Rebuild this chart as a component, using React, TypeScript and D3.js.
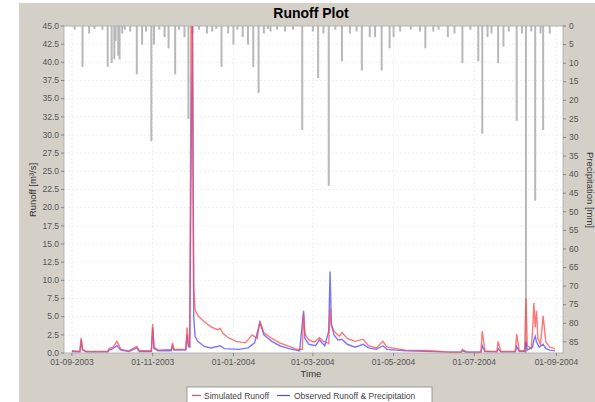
import React from 'react';
import * as d3 from 'd3';

const WIDTH = 595;
const HEIGHT = 402;
// plot area 64..563 x 26..353
const margin = { l: 64, t: 26, r: 32, b: 49 };
const plotW = WIDTH - margin.l - margin.r;
const plotH = HEIGHT - margin.t - margin.b;

const parse = d3.timeParse('%Y-%m-%d');
const fmt = d3.timeFormat('%d-%m-%Y');

const title = 'Runoff Plot';
const timeDomain = ['2003-08-26', '2004-09-06'];
const timeTicks = ['2003-09-01', '2003-11-01', '2004-01-01', '2004-03-01', '2004-05-01', '2004-07-01', '2004-09-01'];
const runoffTicks = [0, 2.5, 5, 7.5, 10, 12.5, 15, 17.5, 20, 22.5, 25, 27.5, 30, 32.5, 35, 37.5, 40, 42.5, 45];
const precipTicks = [0, 5, 10, 15, 20, 25, 30, 35, 40, 45, 50, 55, 60, 65, 70, 75, 80, 85];

// daily precipitation [mm]
const precipitation: [string, number][] = [
  ['2003-09-03', 1], ['2003-09-09', 11], ['2003-09-14', 2], ['2003-09-18', 0.8], ['2003-09-24', 1],
  ['2003-09-28', 11], ['2003-10-01', 10], ['2003-10-03', 9], ['2003-10-04', 4], ['2003-10-06', 8], ['2003-10-07', 9],
  ['2003-10-09', 2], ['2003-10-11', 1], ['2003-10-15', 1.5], ['2003-10-20', 13], ['2003-10-24', 5],
  ['2003-10-27', 1.5], ['2003-10-31', 31], ['2003-11-02', 5], ['2003-11-06', 1], ['2003-11-10', 3],
  ['2003-11-13', 6], ['2003-11-18', 13], ['2003-11-21', 1], ['2003-11-25', 3], ['2003-11-28', 25],
  ['2003-12-01', 2], ['2003-12-06', 1], ['2003-12-12', 2], ['2003-12-16', 1.5], ['2003-12-19', 0.8],
  ['2003-12-23', 11], ['2003-12-28', 2], ['2004-01-01', 5], ['2004-01-04', 1], ['2004-01-08', 3],
  ['2004-01-12', 5], ['2004-01-16', 11], ['2004-01-20', 18], ['2004-01-24', 2], ['2004-01-27', 0.8],
  ['2004-01-29', 1.5], ['2004-02-03', 1], ['2004-02-09', 1.5], ['2004-02-15', 1], ['2004-02-22', 28],
  ['2004-03-01', 1.5], ['2004-03-05', 14], ['2004-03-09', 2], ['2004-03-13', 43], ['2004-03-18', 1],
  ['2004-03-23', 9.5], ['2004-03-29', 2], ['2004-04-03', 1.5], ['2004-04-07', 12], ['2004-04-13', 3],
  ['2004-04-17', 3], ['2004-04-22', 12], ['2004-04-28', 6], ['2004-05-01', 3], ['2004-05-06', 1.5],
  ['2004-05-14', 1], ['2004-05-21', 1.5], ['2004-05-25', 6], ['2004-05-31', 1.5], ['2004-06-04', 1],
  ['2004-06-11', 3], ['2004-06-16', 2], ['2004-06-22', 10], ['2004-06-28', 1], ['2004-07-04', 9.5],
  ['2004-07-07', 29], ['2004-07-11', 3], ['2004-07-14', 2], ['2004-07-19', 10], ['2004-07-23', 5.5],
  ['2004-07-27', 1.5], ['2004-08-02', 25.5], ['2004-08-06', 2], ['2004-08-09', 90], ['2004-08-13', 1.5],
  ['2004-08-16', 47], ['2004-08-20', 2], ['2004-08-22', 28], ['2004-08-27', 2],
];

// simulated runoff [m3/s]
const simulated: [string, number][] = [
  ['2003-09-01', 0.3], ['2003-09-07', 0.2], ['2003-09-08', 2.1], ['2003-09-09', 0.5], ['2003-09-12', 0.2],
  ['2003-09-28', 0.2], ['2003-09-29', 0.6], ['2003-10-02', 0.8], ['2003-10-05', 1.6], ['2003-10-08', 0.5],
  ['2003-10-14', 0.3], ['2003-10-20', 0.9], ['2003-10-22', 0.3], ['2003-10-31', 0.3], ['2003-11-01', 4.0],
  ['2003-11-02', 0.8], ['2003-11-05', 0.4], ['2003-11-15', 0.5], ['2003-11-16', 1.4], ['2003-11-17', 0.5],
  ['2003-11-26', 0.5], ['2003-11-27', 3.5], ['2003-11-28', 1.2], ['2003-11-29', 1.0], ['2003-11-30', 46],
  ['2003-12-01', 48], ['2003-12-02', 9], ['2003-12-03', 6.0], ['2003-12-04', 5.5], ['2003-12-06', 5.0],
  ['2003-12-10', 4.3], ['2003-12-15', 3.6], ['2003-12-20', 3.2], ['2003-12-22', 3.4], ['2003-12-24', 2.7],
  ['2003-12-28', 2.1], ['2004-01-03', 1.6], ['2004-01-10', 1.4], ['2004-01-12', 1.8], ['2004-01-15', 2.5],
  ['2004-01-19', 2.0], ['2004-01-21', 4.4], ['2004-01-24', 2.8], ['2004-01-30', 2.0], ['2004-02-05', 1.4],
  ['2004-02-12', 0.9], ['2004-02-18', 0.5], ['2004-02-22', 0.5], ['2004-02-23', 5.4], ['2004-02-24', 2.6],
  ['2004-02-27', 1.8], ['2004-03-02', 1.5], ['2004-03-06', 2.1], ['2004-03-09', 1.6], ['2004-03-13', 1.3],
  ['2004-03-14', 6.2], ['2004-03-15', 3.8], ['2004-03-17', 3.0], ['2004-03-21', 2.3], ['2004-03-23', 2.8],
  ['2004-03-27', 2.0], ['2004-04-02', 1.6], ['2004-04-08', 1.9], ['2004-04-12', 1.0], ['2004-04-18', 0.7],
  ['2004-04-23', 1.6], ['2004-04-26', 0.8], ['2004-05-03', 0.6], ['2004-05-10', 0.4], ['2004-05-25', 0.35],
  ['2004-06-06', 0.2], ['2004-06-13', 0.1], ['2004-06-21', 0.1], ['2004-06-22', 0.5], ['2004-06-25', 0.15],
  ['2004-07-06', 0.1], ['2004-07-07', 3.0], ['2004-07-09', 0.3], ['2004-07-13', 0.2], ['2004-07-18', 0.2],
  ['2004-07-19', 1.6], ['2004-07-21', 0.2], ['2004-08-01', 0.2], ['2004-08-02', 2.6], ['2004-08-04', 0.3],
  ['2004-08-08', 0.3], ['2004-08-09', 7.5], ['2004-08-10', 1.0], ['2004-08-13', 0.6], ['2004-08-14', 3.0],
  ['2004-08-15', 6.9], ['2004-08-16', 3.5], ['2004-08-17', 5.8], ['2004-08-18', 2.0], ['2004-08-20', 1.2],
  ['2004-08-22', 5.1], ['2004-08-24', 1.5], ['2004-08-27', 0.8], ['2004-08-31', 0.6],
];

// observed runoff [m3/s]
const observed: [string, number][] = [
  ['2003-09-01', 0.2], ['2003-09-07', 0.15], ['2003-09-08', 1.8], ['2003-09-09', 0.4], ['2003-09-12', 0.15],
  ['2003-09-28', 0.15], ['2003-09-29', 0.4], ['2003-10-02', 0.6], ['2003-10-05', 1.0], ['2003-10-08', 0.4],
  ['2003-10-14', 0.2], ['2003-10-20', 0.7], ['2003-10-22', 0.2], ['2003-10-31', 0.2], ['2003-11-01', 3.5],
  ['2003-11-02', 0.6], ['2003-11-05', 0.3], ['2003-11-15', 0.3], ['2003-11-16', 1.0], ['2003-11-17', 0.4],
  ['2003-11-26', 0.4], ['2003-11-27', 2.5], ['2003-11-28', 0.9], ['2003-11-29', 0.8], ['2003-11-30', 25],
  ['2003-12-01', 46], ['2003-12-02', 5], ['2003-12-03', 2.3], ['2003-12-05', 1.6], ['2003-12-10', 0.9],
  ['2003-12-15', 0.7], ['2003-12-22', 1.0], ['2003-12-25', 0.6], ['2004-01-05', 0.5], ['2004-01-12', 0.7],
  ['2004-01-17', 1.4], ['2004-01-21', 4.2], ['2004-01-24', 2.5], ['2004-01-30', 1.6], ['2004-02-05', 1.0],
  ['2004-02-12', 0.6], ['2004-02-20', 0.3], ['2004-02-23', 5.8], ['2004-02-24', 2.0], ['2004-02-27', 1.2],
  ['2004-03-03', 1.0], ['2004-03-06', 1.8], ['2004-03-10', 1.0], ['2004-03-13', 3.0], ['2004-03-14', 11.2],
  ['2004-03-15', 4.0], ['2004-03-17', 2.5], ['2004-03-20', 1.8], ['2004-03-23', 1.9], ['2004-03-27', 1.2],
  ['2004-04-02', 0.8], ['2004-04-08', 1.2], ['2004-04-12', 0.7], ['2004-04-18', 0.5], ['2004-04-23', 1.0],
  ['2004-04-26', 0.5], ['2004-05-03', 0.4], ['2004-05-10', 0.3], ['2004-05-25', 0.25], ['2004-06-06', 0.15],
  ['2004-06-21', 0.1], ['2004-06-22', 0.3], ['2004-06-25', 0.1], ['2004-07-06', 0.1], ['2004-07-07', 1.0],
  ['2004-07-09', 0.2], ['2004-07-18', 0.15], ['2004-07-19', 0.6], ['2004-07-21', 0.15], ['2004-08-01', 0.15],
  ['2004-08-02', 0.9], ['2004-08-04', 0.2], ['2004-08-08', 0.2], ['2004-08-09', 1.6], ['2004-08-10', 0.4],
  ['2004-08-14', 0.8], ['2004-08-15', 1.8], ['2004-08-16', 2.3], ['2004-08-17', 1.5], ['2004-08-19', 0.8],
  ['2004-08-22', 1.2], ['2004-08-24', 0.6], ['2004-08-27', 0.4], ['2004-08-31', 0.3],
];

const font = '"Liberation Sans", Arial, sans-serif';
const tickColor = '#555';
const simColor = '#ff4a4a';
const obsColor = '#4a4aff';

const App = () => {
  const x = d3
    .scaleTime()
    .domain(timeDomain.map((d) => parse(d) as Date))
    .range([0, plotW]);
  const yRunoff = d3.scaleLinear().domain([0, 45]).range([plotH, 0]);
  const yPrecip = d3.scaleLinear().domain([0, 88]).range([0, plotH]);

  const line = d3
    .line<[string, number]>()
    .x((d) => x(parse(d[0]) as Date))
    .y((d) => yRunoff(d[1]));

  const dayW = x(parse('2004-01-02') as Date) - x(parse('2004-01-01') as Date);

  return (
    <svg
      width={WIDTH}
      height={HEIGHT}
      style={{ position: 'absolute', left: 0, top: 0 }}
      fontFamily={font}
    >
      <rect x={0} y={0} width={WIDTH} height={HEIGHT} fill="#fff" />
      <rect x={19} y={3} width={WIDTH - 19} height={HEIGHT - 3} fill="#d4d0c8" />
      <text x={311} y={18} textAnchor="middle" fontSize={14} fontWeight="bold" fill="#000">
        {title}
      </text>
      <defs>
        <clipPath id="plot-clip">
          <rect x={0} y={0} width={plotW} height={plotH} />
        </clipPath>
      </defs>
      <g transform={`translate(${margin.l},${margin.t})`}>
        <rect x={0} y={0} width={plotW} height={plotH} fill="#fff" />
        {/* grid */}
        {runoffTicks.map((t) => (
          <line key={`gy-${t}`} x1={0} x2={plotW} y1={yRunoff(t)} y2={yRunoff(t)} stroke="#e2e2e2" strokeWidth={0.6} strokeDasharray="2,2" />
        ))}
        {timeTicks.map((t) => (
          <line key={`gx-${t}`} x1={x(parse(t) as Date)} x2={x(parse(t) as Date)} y1={0} y2={plotH} stroke="#e2e2e2" strokeWidth={0.6} strokeDasharray="2,2" />
        ))}
        <g clipPath="url(#plot-clip)">
          {precipitation.map(([d, v]) => (
            <rect
              key={`p-${d}`}
              x={x(parse(d) as Date) - 1}
              y={0}
              width={Math.max(2, dayW)}
              height={yPrecip(v)}
              fill="#b8b8b8"
            />
          ))}
          <path d={line(observed) || ''} fill="none" stroke={obsColor} strokeWidth={1.4} strokeOpacity={0.75} />
          <path d={line(simulated) || ''} fill="none" stroke={simColor} strokeWidth={1.4} strokeOpacity={0.75} />
        </g>
        <rect x={0} y={0} width={plotW} height={plotH} fill="none" stroke="#a8a8a8" strokeWidth={0.8} />
        {/* left axis */}
        {runoffTicks.map((t) => (
          <g key={`ly-${t}`} transform={`translate(0,${yRunoff(t)})`}>
            <line x1={-3} x2={0} stroke={tickColor} strokeWidth={0.6} />
            <text x={-5} dy="0.32em" textAnchor="end" fontSize={8.5} fill={tickColor}>
              {t.toFixed(1)}
            </text>
          </g>
        ))}
        {/* right axis */}
        {precipTicks.map((t) => (
          <g key={`ry-${t}`} transform={`translate(${plotW},${yPrecip(t)})`}>
            <line x1={0} x2={3} stroke={tickColor} strokeWidth={0.6} />
            <text x={6} dy="0.32em" textAnchor="start" fontSize={8.5} fill={tickColor}>
              {t}
            </text>
          </g>
        ))}
        {/* bottom axis */}
        {timeTicks.map((t) => (
          <g key={`bx-${t}`} transform={`translate(${x(parse(t) as Date)},${plotH})`}>
            <line y1={0} y2={3} stroke={tickColor} strokeWidth={0.6} />
            <text y={12} textAnchor="middle" fontSize={8.5} fill={tickColor}>
              {fmt(parse(t) as Date)}
            </text>
          </g>
        ))}
      </g>
      <text x={311} y={377} textAnchor="middle" fontSize={9.5} fill="#333">
        Time
      </text>
      <text transform="translate(36,190) rotate(-90)" textAnchor="middle" fontSize={9.5} fill="#333">
        Runoff [m³/s]
      </text>
      <text transform="translate(587,190) rotate(90)" textAnchor="middle" fontSize={9.5} fill="#333">
        Precipitation [mm]
      </text>
      {/* legend */}
      <rect x={187} y={387} width={245} height={16} fill="#fff" stroke="#888" strokeWidth={0.8} />
      <line x1={192} x2={201} y1={395.5} y2={395.5} stroke={simColor} strokeWidth={1.2} />
      <text x={204} y={398.5} fontSize={8.5} fill="#444">
        Simulated Runoff
      </text>
      <line x1={277} x2={290} y1={395.5} y2={395.5} stroke={obsColor} strokeWidth={1.2} />
      <text x={294} y={398.5} fontSize={8.5} fill="#444">
        Observed Runoff &amp; Precipitation
      </text>
    </svg>
  );
};

export default App;
